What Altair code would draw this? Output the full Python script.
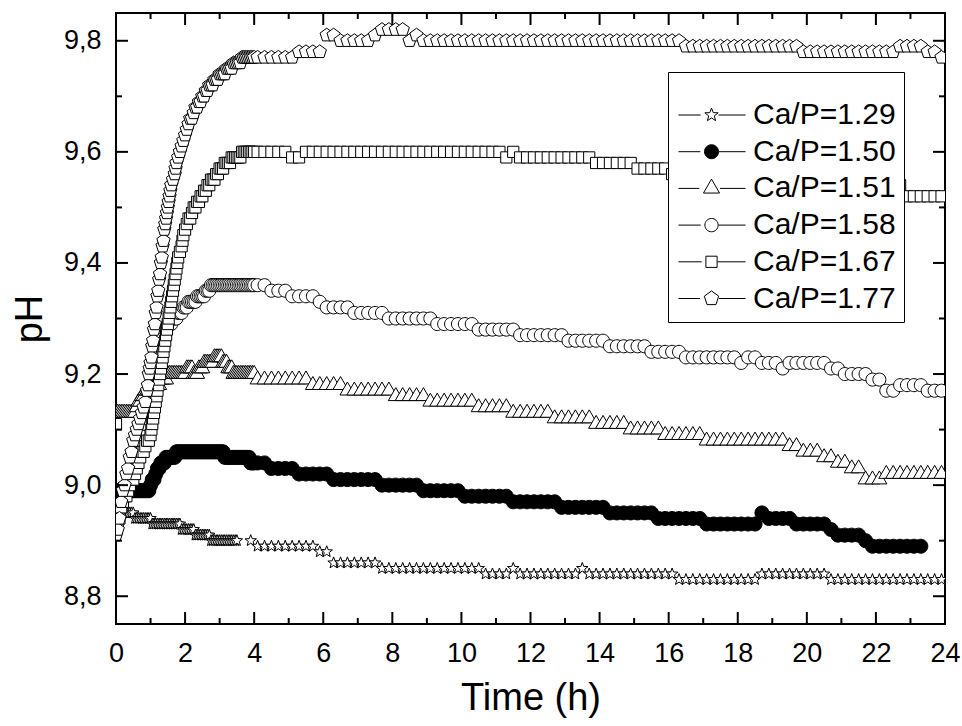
import math
import pandas as pd
import altair as alt

FONT = "Liberation Sans"
SERIES = ["Ca/P=1.29", "Ca/P=1.50", "Ca/P=1.51", "Ca/P=1.58", "Ca/P=1.67", "Ca/P=1.77"]
FILLS = ["white", "black", "white", "white", "white", "white"]
STROKES = ["black"] * 6


def grid(t0, step, n):
    return [round(t0 + step * i, 3) for i in range(n)]


# ---------------- Ca/P = 1.29 (stars) ----------------
t129_dense = grid(0.0, 0.05, 71)           # 0.00 .. 3.50 h
ph129_dense = [8.95] * 11 + [8.94] * 10 + [8.93] * 17 + [8.92] * 8 + [8.91] * 9 + [8.90] * 16
t129_sparse = grid(3.9, 0.2, 101)          # 3.9 .. 23.9 h
ph129_sparse = ([8.90] + [8.89] * 9 + [8.88] * 2 + [8.86] * 7 + [8.85] * 15 + [8.84] * 4 + [8.85]
                + [8.84] * 9 + [8.85] + [8.84] * 13 + [8.83] * 12 + [8.84] * 10 + [8.83] * 17)

# ---------------- Ca/P = 1.50 (filled circles) ----------------
t150_dense = grid(0.0, 0.05, 81)
ph150_dense = ([8.98] + [8.99] * 19 + [9.00, 9.01, 9.01, 9.02, 9.03, 9.03, 9.04, 9.04, 9.04]
               + [9.05] * 6 + [9.06] * 28 + [9.05] * 15 + [9.04] * 3)
t150_sparse = grid(4.1, 0.2, 97)           # 4.1 .. 23.3 h
ph150_sparse = ([9.04] * 2 + [9.03] * 4 + [9.02] * 5 + [9.01] * 7 + [9.00] * 6 + [8.99] * 6
                + [8.98] * 7 + [8.97] * 7 + [8.96] * 7 + [8.95] * 7 + [8.94] * 7 + [8.93] * 8
                + [8.95] + [8.94] * 4 + [8.93] * 5 + [8.92] + [8.91] * 4 + [8.90] + [8.89] * 8)

# ---------------- Ca/P = 1.51 (triangles) ----------------
t151_dense = grid(0.0, 0.05, 81)
ph151_dense = ([9.13] * 12 + [9.14] + [9.15] * 2 + [9.16] * 2 + [9.17] * 5 + [9.18] * 4 + [9.19] * 4
               + [9.20] * 11 + [9.21] * 4 + [9.20] * 3 + [9.21] * 3 + [9.22] * 6 + [9.23] * 5
               + [9.22] * 3 + [9.21] * 3 + [9.20] * 13)
t151_sparse = grid(4.1, 0.2, 100)          # 4.1 .. 23.9 h
ph151_sparse = ([9.19] * 8 + [9.18] * 5 + [9.17] * 7 + [9.16] * 5 + [9.15] * 7 + [9.14] * 5
                + [9.13] * 6 + [9.12] * 6 + [9.11] * 5 + [9.10] * 5 + [9.09] * 6 + [9.08] * 12
                + [9.07] * 2 + [9.06] * 3 + [9.05] * 2 + [9.04] * 2 + [9.03] * 2 + [9.01] * 3 + [9.02] * 9)

# ---------------- Ca/P = 1.58 (open circles) ----------------
t158_dense = grid(0.5, 0.05, 71)           # 0.50 .. 4.00 h
ph158_dense = ([9.05, 9.05, 9.06, 9.07, 9.08, 9.09, 9.10, 9.11, 9.12, 9.13, 9.15, 9.17, 9.20, 9.22,
                9.24, 9.25, 9.26, 9.27, 9.28, 9.28, 9.29, 9.29, 9.29, 9.30, 9.30, 9.30, 9.31, 9.31,
                9.31, 9.32, 9.32, 9.32, 9.33]
               + [9.33] * 4 + [9.34] * 5 + [9.35] * 3 + [9.36] * 26)
t158_sparse = grid(4.1, 0.2, 100)
ph158_sparse = ([9.36] * 2 + [9.35] * 3 + [9.34] * 4 + [9.33] + [9.32] * 4 + [9.31] * 5 + [9.30] * 7
                + [9.29] * 6 + [9.28] * 6 + [9.27] * 7 + [9.26] * 6 + [9.25] * 6 + [9.24] * 5
                + [9.23] * 8 + [9.22] + [9.23] * 2 + [9.22] * 3 + [9.21] + [9.22] * 6 + [9.21] * 2
                + [9.20] * 4 + [9.19] * 2 + [9.17] * 2 + [9.18] * 4 + [9.17] * 3)

# ---------------- Ca/P = 1.67 (squares) ----------------
t167_dense = grid(0.0, 0.05, 81)
ph167_dense = ([9.11, 8.93, 8.94, 8.96, 8.97, 8.98, 8.98, 8.99, 9.00, 9.01, 9.01, 9.02, 9.03, 9.04,
                9.05, 9.06, 9.06, 9.07, 9.08, 9.08, 9.09, 9.11, 9.13, 9.15, 9.17, 9.19, 9.21, 9.23,
                9.25, 9.27, 9.29, 9.31, 9.33, 9.35, 9.37, 9.39, 9.41, 9.42, 9.43, 9.45, 9.46,
                9.47, 9.48, 9.48, 9.49, 9.50, 9.50, 9.51, 9.51, 9.52, 9.52, 9.53, 9.53, 9.54, 9.54,
                9.55, 9.55, 9.55, 9.56, 9.56, 9.57, 9.57, 9.57, 9.58, 9.58, 9.58, 9.58]
               + [9.59] * 6 + [9.60] * 8)
t167_stack = [1.025, 1.075, 1.125, 1.175, 1.225, 1.275, 1.325, 1.375, 1.425, 1.475, 1.525,
              1.575, 1.625, 1.675, 1.725, 1.775, 1.925]
ph167_stack = [9.10, 9.12, 9.14, 9.16, 9.18, 9.20, 9.22, 9.24, 9.26, 9.28, 9.30,
               9.32, 9.34, 9.36, 9.38, 9.40, 9.44]
t167_sparse = grid(4.1, 0.2, 100)
ph167_sparse = ([9.60] * 5 + [9.59] * 2 + [9.60] * 29 + [9.59] + [9.60] + [9.59] * 11 + [9.58] * 6
                + [9.57] * 5 + [9.56] * 10 + [9.55] * 10 + [9.54] * 14 + [9.52] * 6)

# ---------------- Ca/P = 1.77 (pentagons) ----------------
t177_dense = grid(0.0, 0.05, 81)
ph177_dense = ([8.91, 8.92, 8.94, 8.97, 8.99, 9.00, 9.02, 9.03, 9.05, 9.06, 9.08, 9.09, 9.10, 9.11,
                9.12, 9.13, 9.14, 9.15, 9.17, 9.20, 9.22, 9.25, 9.28, 9.31, 9.34, 9.37, 9.40, 9.43,
                9.46, 9.48, 9.50,
                9.52, 9.54, 9.55, 9.56, 9.58, 9.59, 9.60, 9.61, 9.62, 9.63, 9.64, 9.65, 9.66, 9.66,
                9.67, 9.68, 9.68, 9.69, 9.69, 9.70, 9.70, 9.71, 9.71, 9.72, 9.72, 9.72, 9.73, 9.73,
                9.73, 9.74, 9.74, 9.74, 9.74]
               + [9.75] * 4 + [9.76] * 5 + [9.77] * 8)
t177_stack = [0.925, 0.975, 1.025, 1.075, 1.125, 1.175, 1.225, 1.275, 1.325, 1.375, 1.425,
              1.475, 1.525, 1.575, 1.725]
ph177_stack = [9.18, 9.21, 9.23, 9.26, 9.29, 9.32, 9.35, 9.38, 9.41, 9.44, 9.47,
               9.49, 9.51, 9.53, 9.57]
t177_sparse = grid(4.1, 0.2, 100)
ph177_sparse = ([9.77] * 6 + [9.78] * 4 + [9.81] * 2 + [9.80] * 5 + [9.81] + [9.82] * 4 + [9.80]
                + [9.81] + [9.80] * 38 + [9.79] * 17 + [9.78] * 14 + [9.79] * 4 + [9.78] * 2 + [9.77])

X_MAJOR = list(range(0, 25, 2))
X_MINOR = list(range(1, 24, 2))
Y_MAJOR = [8.8, 9.0, 9.2, 9.4, 9.6, 9.8]
Y_MINOR = [8.9, 9.1, 9.3, 9.5, 9.7]

parts = {
    SERIES[0]: [(t129_dense, ph129_dense), (t129_sparse, ph129_sparse)],
    SERIES[1]: [(t150_dense, ph150_dense), (t150_sparse, ph150_sparse)],
    SERIES[2]: [(t151_dense, ph151_dense), (t151_sparse, ph151_sparse)],
    SERIES[3]: [(t158_dense, ph158_dense), (t158_sparse, ph158_sparse)],
    SERIES[4]: [(t167_dense, ph167_dense), (t167_stack, ph167_stack), (t167_sparse, ph167_sparse)],
    SERIES[5]: [(t177_dense, ph177_dense), (t177_stack, ph177_stack), (t177_sparse, ph177_sparse)],
}
rows = []
for order, name in enumerate(SERIES):
    pts = []
    for tt, pp in parts[name]:
        assert len(tt) == len(pp), (name, len(tt), len(pp))
        pts += list(zip(tt, pp))
    pts.sort(key=lambda p: p[0])
    for tt, pp in pts:
        rows.append({"series": name, "t": tt, "ph": pp, "o": order})
df = pd.DataFrame(rows)

# ---------------- marker geometry ----------------
def star_pts(k):
    out = []
    for i in range(10):
        a = math.radians(-90 + 36 * i)
        r = k if i % 2 == 0 else 0.42 * k
        out.append((r * math.cos(a), r * math.sin(a)))
    return out


def pent_pts(k):
    return [(k * math.cos(math.radians(-90 + 72 * i)), k * math.sin(math.radians(-90 + 72 * i))) for i in range(5)]


def tri_pts(k):
    return [(0, -1.155 * k), (k, 0.577 * k), (-k, 0.577 * k)]


def sq_pts(k):
    return [(-k, -k), (k, -k), (k, k), (-k, k)]


def poly(pts, dx=0.0):
    return "M" + "L".join(f"{x + dx:.3f},{y:.3f}" for x, y in pts) + "Z"


def circ(k, dx=0.0):
    return (f"M{dx + k:.3f},0A{k:.3f},{k:.3f} 0 1,1 {dx - k:.3f},0"
            f"A{k:.3f},{k:.3f} 0 1,1 {dx + k:.3f},0Z")


def shape_path(kind, k, dx=0.0):
    if kind == "circle":
        return circ(k, dx)
    f = {"star": star_pts, "pent": pent_pts, "tri": tri_pts, "sq": sq_pts}[kind]
    return poly(f(k), dx)


def half_w(kind, k):
    return {"star": 0.951, "pent": 0.951, "tri": 1.0, "sq": 1.0, "circle": 1.0}[kind] * k


KINDS = ["star", "circle", "tri", "circle", "sq", "pent"]
DATA_K = [0.86, 1.0, 1.07, 0.93, 0.8, 1.0]
LEG_K = [1.0, 1.0, 1.15, 0.95, 0.8, 1.08]
CX = 2.93
LX0, LX1 = -1.79, 7.79
DATA_PATHS = [shape_path(kd, k) for kd, k in zip(KINDS, DATA_K)]
LEG_PATHS = []
for kd, k in zip(KINDS, LEG_K):
    hw = half_w(kd, k)
    LEG_PATHS.append(f"M{LX0},0H{CX - hw - 0.6:.3f}" + shape_path(kd, k, CX)
                     + f"M{CX + hw + 0.05:.3f},0H{LX1}")

W, H = 829, 611
xscale = alt.Scale(domain=[0, 24], nice=False, zero=False)
yscale = alt.Scale(domain=[8.75, 9.85], nice=False, zero=False)
xaxis = alt.Axis(values=X_MAJOR, title="Time (h)", ticks=False, tickSize=0, domain=False, grid=False,
                 labelFlush=False, labelOverlap=False,
                 labelFont=FONT, labelFontSize=27, labelPadding=16, labelColor="black",
                 titleFont=FONT, titleFontSize=38, titleFontWeight="normal", titleColor="black",
                 titlePadding=13)
yaxis = alt.Axis(values=Y_MAJOR, title="pH", ticks=False, tickSize=0, domain=False, grid=False,
                 labelFlush=False, labelOverlap=False,
                 labelExpr="replace(format(datum.value, '.1f'), '.', ',')",
                 labelFont=FONT, labelFontSize=27, labelPadding=15, labelColor="black",
                 titleFont=FONT, titleFontSize=38, titleFontWeight="normal", titleColor="black",
                 titlePadding=14)

base = alt.Chart(df)
points = base.mark_point(filled=True, size=196, stroke="black", strokeWidth=1, opacity=1,
                         fillOpacity=1, clip=True).encode(
    x=alt.X("t:Q", scale=xscale, axis=xaxis),
    y=alt.Y("ph:Q", scale=yscale, axis=yaxis),
    shape=alt.Shape("series:N", scale=alt.Scale(domain=SERIES, range=DATA_PATHS), legend=None),
    fill=alt.Fill("series:N", scale=alt.Scale(domain=SERIES, range=FILLS), legend=None),
    order=alt.Order("o:Q"),
)

leg = alt.Legend(orient="none", legendX=552, legendY=59, title=" ", titleFontSize=14, titlePadding=6,
                 labelFont=FONT, labelFontSize=30, labelColor="black", labelOffset=47, labelLimit=400,
                 symbolSize=196, symbolStrokeWidth=1, symbolOpacity=1,
                 rowPadding=6.7, padding=8, strokeColor="black", fillColor="white")
legend_layer = base.transform_filter("false").mark_point(
    filled=True, size=196, strokeWidth=1, opacity=1).encode(
    x=alt.X("t:Q", scale=xscale, axis=xaxis),
    y=alt.Y("ph:Q", scale=yscale, axis=yaxis),
    shape=alt.Shape("series:N", scale=alt.Scale(domain=SERIES, range=LEG_PATHS), legend=leg),
    fill=alt.Fill("series:N", scale=alt.Scale(domain=SERIES, range=FILLS), legend=leg),
    stroke=alt.Stroke("series:N", scale=alt.Scale(domain=SERIES, range=STROKES), legend=leg),
)


def xticks(vals, length, top):
    d = pd.DataFrame({"t": vals})
    y0, y1 = (0, length) if top else (H, H - length)
    return alt.Chart(d).mark_rule(color="black", strokeWidth=2).encode(
        x=alt.X("t:Q", scale=xscale, axis=xaxis), y=alt.value(y0), y2=alt.value(y1))


def yticks(vals, length, right):
    d = pd.DataFrame({"ph": vals})
    x0, x1 = (W, W - length) if right else (0, length)
    return alt.Chart(d).mark_rule(color="black", strokeWidth=2).encode(
        y=alt.Y("ph:Q", scale=yscale, axis=yaxis), x=alt.value(x0), x2=alt.value(x1))


tick_layers = [
    xticks(X_MAJOR, 12, False), xticks(X_MINOR, 6, False),
    xticks(X_MAJOR, 12, True), xticks(X_MINOR, 6, True),
    yticks(Y_MAJOR, 12, False), yticks(Y_MINOR, 6, False),
    yticks(Y_MAJOR, 12, True), yticks(Y_MINOR, 6, True),
]

chart = alt.layer(points, legend_layer, *tick_layers).resolve_scale(
    shape="independent", fill="independent", stroke="independent"
).properties(
    width=W, height=H,
    autosize=alt.AutoSizeParams(type="none"),
    padding={"left": 116, "top": 13, "right": 17, "bottom": 102},
    background="white",
).configure_view(stroke="black", strokeWidth=2)

chart.save("out.html", embed_options={"renderer": "svg", "actions": False})
